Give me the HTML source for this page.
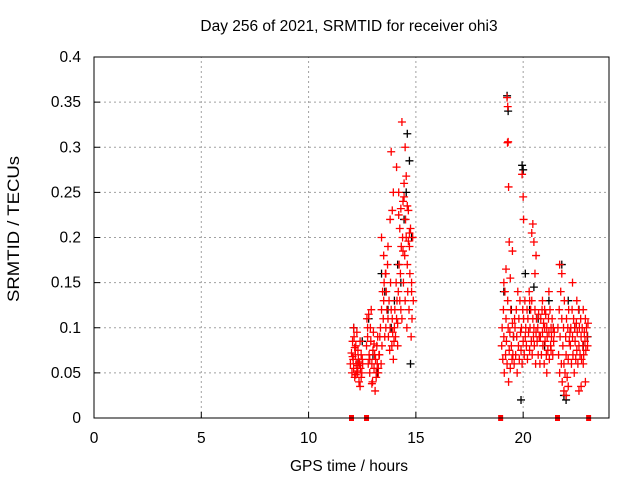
<!DOCTYPE html>
<html><head><meta charset="utf-8"><style>
body{margin:0;background:#fff;}
svg{display:block;font-family:"Liberation Sans",sans-serif;}
</style></head><body>
<svg id="chart" width="640" height="480">
<text x="349" y="31" font-size="15.5" text-anchor="middle">Day 256 of 2021, SRMTID for receiver ohi3</text>
<text x="349" y="471" font-size="15.5" text-anchor="middle">GPS time / hours</text>
<text transform="translate(19,229) rotate(-90)" font-size="17" text-anchor="middle" textLength="146" lengthAdjust="spacingAndGlyphs">SRMTID / TECUs</text>
<g id="grid"></g>
<g id="ticks"></g>
<g id="black"></g>
<g id="red"></g>
<g id="gaps"></g>
<rect x="94" y="57" width="515" height="361" fill="none" stroke="#000"/>
</svg>
<script>
const xTicks=[0,5,10,15,20];
const yTicks=[0,0.05,0.1,0.15,0.2,0.25,0.3,0.35,0.4];
const yTickLabels=["0","0.05","0.1","0.15","0.2","0.25","0.3","0.35","0.4"];
const redT=[11.95,12.0,12.02,12.05,12.08,12.1,12.12,12.15,12.18,12.2,12.22,12.25,12.28,12.3,12.32,12.35,12.38,12.4,12.42,12.45,12.48,12.5,12.52,12.1,12.2,12.3,12.4,12.05,12.15,12.25,12.35,12.45,
12.7,12.72,12.75,12.78,12.8,12.82,12.85,12.88,12.9,12.92,12.95,12.98,13.0,13.02,13.05,13.08,13.1,13.12,13.15,13.18,13.2,13.22,13.25,13.28,12.75,12.85,12.95,13.05,13.15,13.25,
13.3,13.32,13.35,13.38,13.4,13.42,13.45,13.48,13.5,13.52,13.55,13.58,13.6,13.62,13.65,13.68,13.7,13.72,13.75,13.78,13.8,13.82,13.85,13.88,13.9,13.92,13.95,13.98,13.4,13.5,13.6,13.7,13.8,13.9,13.85,13.95,
14.0,14.02,14.05,14.08,14.1,14.12,14.15,14.18,14.2,14.22,14.25,14.28,14.3,14.32,14.35,14.38,14.4,14.42,14.45,14.48,14.5,14.52,14.55,14.58,14.6,14.62,14.65,14.68,14.7,14.72,14.75,14.78,14.8,14.82,14.85,14.88,14.1,14.2,14.3,14.4,14.5,14.6,14.7,14.8,14.35,14.45,14.55,14.65,14.25,14.15,
19.0,19.02,19.05,19.08,19.1,19.12,19.15,19.18,19.2,19.22,19.25,19.28,19.3,19.32,19.35,19.38,19.4,19.42,19.45,19.48,19.5,19.52,19.55,19.58,19.6,19.25,19.27,19.3,19.28,19.32,19.35,19.1,19.2,19.4,19.5,
19.62,19.65,19.68,19.7,19.72,19.75,19.78,19.8,19.82,19.85,19.88,19.9,19.92,19.95,19.98,20.0,20.02,20.05,20.08,20.1,20.12,20.15,20.18,20.2,20.22,20.25,20.28,20.3,20.32,20.35,20.38,20.4,20.42,20.45,20.48,20.5,20.52,20.55,20.58,20.6,20.62,20.65,20.68,20.7,20.72,20.75,20.78,19.95,20.0,20.02,20.4,20.45,20.5,20.55,20.6,20.3,
20.8,20.82,20.85,20.88,20.9,20.92,20.95,20.98,21.0,21.02,21.05,21.08,21.1,21.12,21.15,21.18,21.2,21.22,21.25,21.28,21.3,21.32,21.35,21.38,21.4,21.42,21.45,20.9,21.0,21.1,21.2,21.3,
21.62,21.65,21.68,21.7,21.72,21.75,21.78,21.8,21.82,21.85,21.88,21.9,21.92,21.95,21.98,22.0,22.02,22.05,22.08,22.1,22.12,22.15,22.18,21.7,21.8,21.9,22.0,22.1,
22.2,22.22,22.25,22.28,22.3,22.32,22.35,22.38,22.4,22.42,22.45,22.48,22.5,22.52,22.55,22.58,22.6,22.62,22.65,22.68,22.7,22.72,22.75,22.78,22.8,22.82,22.85,22.88,22.9,22.92,22.95,22.98,23.0,23.02,22.3,22.5,22.7,22.9,22.6,22.8];
const redV=[0.06,0.072,0.05,0.085,0.065,0.055,0.09,0.045,0.07,0.08,0.06,0.095,0.05,0.075,0.065,0.04,0.06,0.085,0.055,0.07,0.05,0.065,0.06,0.1,0.048,0.058,0.035,0.068,0.078,0.052,0.062,0.045,
0.08,0.11,0.09,0.06,0.115,0.07,0.05,0.1,0.085,0.12,0.06,0.04,0.075,0.095,0.055,0.07,0.03,0.065,0.045,0.08,0.06,0.09,0.05,0.07,0.1,0.065,0.038,0.082,0.05,0.055,
0.07,0.09,0.1,0.06,0.12,0.08,0.14,0.11,0.13,0.15,0.09,0.16,0.1,0.14,0.12,0.17,0.11,0.09,0.13,0.075,0.1,0.15,0.12,0.08,0.11,0.095,0.065,0.085,0.2,0.18,0.16,0.19,0.22,0.23,0.295,0.25,
0.1,0.12,0.09,0.15,0.11,0.13,0.08,0.14,0.225,0.17,0.21,0.16,0.12,0.19,0.11,0.2,0.24,0.15,0.26,0.18,0.13,0.22,0.2,0.1,0.17,0.14,0.23,0.12,0.19,0.16,0.21,0.09,0.15,0.11,0.2,0.13,0.278,0.25,0.232,0.185,0.3,0.235,0.205,0.14,0.328,0.245,0.268,0.196,0.13,0.105,
0.08,0.1,0.065,0.12,0.09,0.05,0.14,0.07,0.11,0.085,0.06,0.13,0.1,0.04,0.075,0.095,0.055,0.12,0.08,0.065,0.105,0.07,0.09,0.06,0.11,0.355,0.305,0.306,0.345,0.256,0.195,0.15,0.165,0.155,0.185,
0.1,0.07,0.12,0.09,0.05,0.14,0.08,0.11,0.065,0.13,0.095,0.075,0.1,0.06,0.12,0.085,0.11,0.07,0.13,0.09,0.1,0.08,0.12,0.065,0.11,0.095,0.14,0.075,0.1,0.12,0.085,0.13,0.07,0.11,0.09,0.1,0.08,0.12,0.06,0.095,0.11,0.085,0.1,0.07,0.115,0.09,0.06,0.27,0.245,0.22,0.205,0.215,0.195,0.16,0.18,0.13,
0.09,0.11,0.07,0.12,0.095,0.08,0.105,0.06,0.1,0.085,0.115,0.07,0.1,0.09,0.075,0.11,0.095,0.065,0.12,0.08,0.1,0.09,0.11,0.07,0.1,0.085,0.095,0.13,0.12,0.05,0.14,0.075,
0.1,0.07,0.12,0.05,0.09,0.14,0.06,0.11,0.04,0.08,0.1,0.06,0.13,0.05,0.09,0.07,0.11,0.045,0.1,0.065,0.12,0.085,0.095,0.17,0.16,0.03,0.025,0.035,
0.08,0.1,0.06,0.12,0.09,0.07,0.11,0.05,0.1,0.085,0.065,0.105,0.075,0.095,0.06,0.12,0.08,0.1,0.07,0.11,0.09,0.065,0.1,0.08,0.12,0.07,0.095,0.085,0.11,0.075,0.1,0.09,0.08,0.105,0.15,0.13,0.035,0.04,0.03,0.06];
const blackT=[12.1,12.3,12.5,12.8,13.0,13.2,13.4,13.55,13.7,13.85,14.0,14.15,14.3,14.45,14.55,14.6,14.7,14.8,14.75,19.1,19.25,19.3,19.45,19.55,19.9,19.95,20.0,20.1,20.3,20.5,20.7,21.0,21.2,21.4,21.8,21.9,22.0,22.1,22.4,22.6,22.8,23.0];
const blackV=[0.1,0.06,0.085,0.11,0.07,0.05,0.16,0.14,0.12,0.1,0.13,0.17,0.15,0.22,0.25,0.315,0.285,0.2,0.06,0.14,0.357,0.34,0.12,0.09,0.02,0.28,0.275,0.16,0.12,0.145,0.11,0.08,0.13,0.1,0.17,0.025,0.02,0.13,0.1,0.12,0.08,0.09];
const gapT=[12.0,12.7,18.95,21.6,23.05];

const X0=94,X1=609,Y0=418,Y1=57;
const xs=t=>X0+t/24*(X1-X0);
const ys=v=>Y0-v/0.4*(Y0-Y1);
const NS="http://www.w3.org/2000/svg";
function mk(tag,attrs,parent){const e=document.createElementNS(NS,tag);for(const k in attrs)e.setAttribute(k,attrs[k]);parent.appendChild(e);return e;}
const grid=document.getElementById('grid'),ticks=document.getElementById('ticks');
xTicks.forEach(t=>{
  const x=xs(t);
  if(t>0){const l=mk('line',{x1:x,x2:x,y1:Y0,y2:Y1,stroke:'#a0a0a0','stroke-dasharray':'2,3'},grid);
  
  }
  mk('line',{x1:x,x2:x,y1:Y0,y2:Y0-6,stroke:'#000'},ticks);
  const tx=mk('text',{x:x,y:Y0+25,'font-size':15.5,'text-anchor':'middle'},ticks);tx.textContent=t;
  
  
});
yTicks.forEach((v,i)=>{
  const y=ys(v);
  if(v>0&&v<0.4){const l=mk('line',{x1:X0,x2:X1,y1:y,y2:y,stroke:'#a0a0a0','stroke-dasharray':'2,3'},grid);
  
  }
  mk('line',{x1:X0,x2:X0+6,y1:y,y2:y,stroke:'#000'},ticks);
  const tx=mk('text',{x:X0-13,y:y+5,'font-size':15.5,'text-anchor':'end'},ticks);tx.textContent=yTickLabels[i];
  
  
});
function cross(g,t,v,col,name){
  const x=xs(t),y=ys(v);
  const p=mk('path',{d:`M${x-4},${y}H${x+4}M${x},${y-4}V${y+4}`,stroke:col,'stroke-width':1.3,fill:'none'},g);
  
  
}
const bg=document.getElementById('black'),rg=document.getElementById('red'),gg=document.getElementById('gaps');
blackT.forEach((t,i)=>cross(bg,t,blackV[i],'#000','black-point'));
redT.forEach((t,i)=>cross(rg,t,redV[i],'#f00','red-point'));
gapT.forEach(t=>{
  const r=mk('rect',{x:xs(t)-2.5,y:Y0-3,width:5,height:6,fill:'#f00'},gg);
  
  
});
</script>
</body></html>
